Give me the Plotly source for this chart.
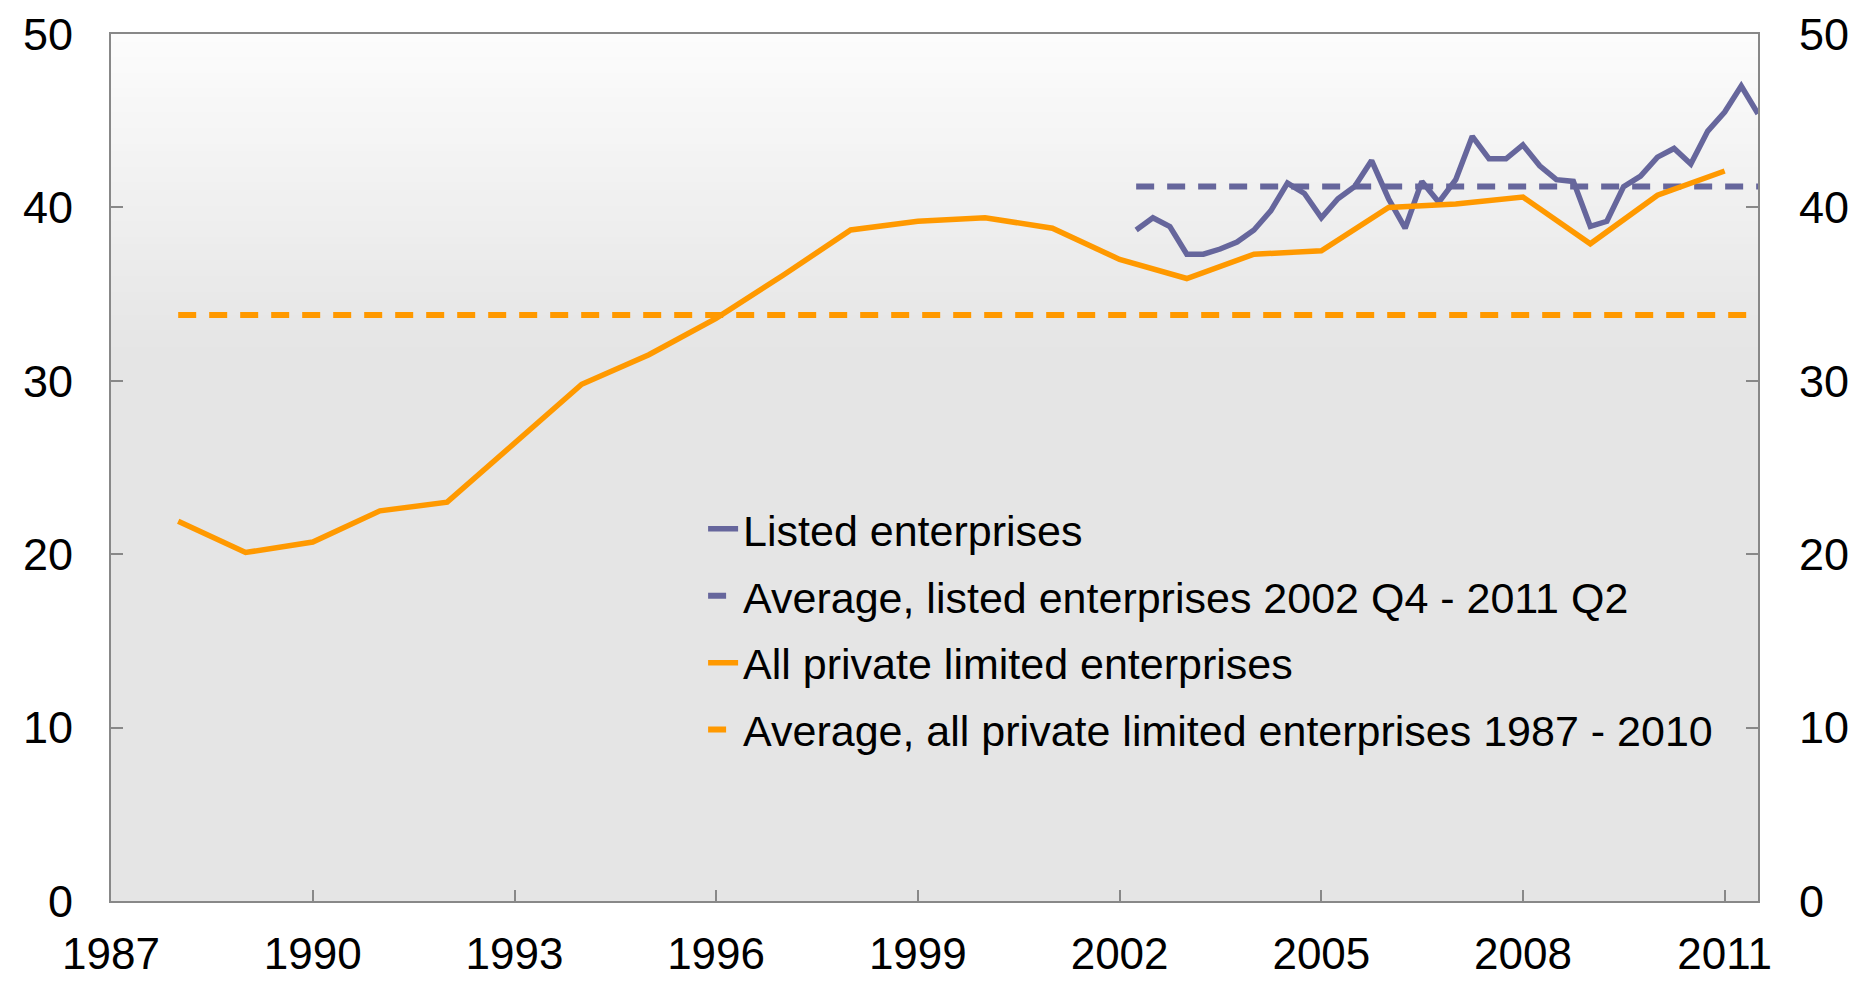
import plotly.graph_objects as go
import pandas as pd

# ---------------- data ----------------
all_years = list(range(1988, 2012))
all_private = [21.9, 20.1, 20.7, 22.5, 23.0, 26.4, 29.8, 31.5, 33.6, 36.1,
               38.7, 39.2, 39.4, 38.8, 37.0, 35.9, 37.3, 37.5, 40.0, 40.2,
               40.6, 37.9, 40.7, 42.1]

listed = [38.7, 39.4, 38.9, 37.3, 37.3, 37.6, 38.0, 38.7, 39.8, 41.4,
          40.8, 39.4, 40.5, 41.2, 42.7, 40.5, 38.8, 41.5, 40.3, 41.6,
          44.1, 42.8, 42.8, 43.6, 42.4, 41.6, 41.5, 38.9, 39.2, 41.2,
          41.8, 42.9, 43.4, 42.5, 44.4, 45.5, 47.0, 45.4]
listed_start = "2002-04-01"

avg_listed = 41.2
avg_all = 33.8

x_start = "1987-01-01"
x_end = "2011-07-01"
tick_years = [1987, 1990, 1993, 1996, 1999, 2002, 2005, 2008, 2011]
y_ticks = [0, 10, 20, 30, 40, 50]

labels = ["Listed enterprises",
          "Average, listed enterprises 2002 Q4 - 2011 Q2",
          "All private limited enterprises",
          "Average, all private limited enterprises 1987 - 2010"]

# ---------------- derived ----------------
all_dates = [f"{y}-01-01" for y in all_years]
listed_dates = pd.date_range(start=listed_start, periods=len(listed), freq="QS")

PURPLE = "#66669c"
ORANGE = "#ff9900"
FONT = "Liberation Sans, Arial, sans-serif"

fig = go.Figure()
fig.add_trace(go.Scatter(x=listed_dates, y=listed, mode="lines", name=labels[0],
                         line=dict(color=PURPLE, width=5.5), legendgroup="a"))
fig.add_trace(go.Scatter(x=[listed_dates[0], x_end], y=[avg_listed, avg_listed],
                         mode="lines", name=labels[1], legendgroup="b",
                         line=dict(color=PURPLE, width=6, dash="18px,13px")))
fig.add_trace(go.Scatter(x=all_dates, y=all_private, mode="lines", name=labels[2],
                         line=dict(color=ORANGE, width=5.5), legendgroup="c"))
fig.add_trace(go.Scatter(x=[all_dates[0], x_end], y=[avg_all, avg_all],
                         mode="lines", name=labels[3], legendgroup="d",
                         line=dict(color=ORANGE, width=6, dash="18px,13px")))
# dummy trace for right axis
fig.add_trace(go.Scatter(x=[None], y=[None], yaxis="y2", showlegend=False,
                         hoverinfo="skip"))

# background gradient (white at top -> light grey)
shapes = []
n = 40
top_frac = 0.36
c0, c1 = 252, 229
for i in range(n):
    f = i / n
    col = int(round(c0 + (c1 - c0) * f))
    y1 = 1 - f * top_frac
    y0 = 1 - (i + 1) / n * top_frac
    shapes.append(dict(type="rect", xref="paper", yref="paper", x0=0, x1=1,
                       y0=y0 - 0.001, y1=y1, layer="below", line=dict(width=0),
                       fillcolor=f"rgb({col},{col},{col})"))

axis_common = dict(showline=True, linecolor="#888888", linewidth=2,
                   ticks="inside", tickcolor="#888888", tickwidth=2,
                   showgrid=False, zeroline=False, automargin=False,
                   tickfont=dict(family=FONT, size=45, color="black"))

fig.update_layout(
    width=1864, height=981,
    margin=dict(l=111, r=106, t=34, b=80),
    paper_bgcolor="white",
    plot_bgcolor=f"rgb({c1},{c1},{c1})",
    shapes=shapes,
    font=dict(family=FONT, color="black"),
    xaxis=dict(type="date", range=[x_start, x_end],
               tickvals=[f"{y}-01-01" for y in tick_years],
               ticktext=[str(y) for y in tick_years],
               ticklen=11, ticklabelstandoff=13, mirror=True, **axis_common),
    yaxis=dict(range=[0, 50], tickvals=y_ticks, ticklen=12,
               ticklabelstandoff=27, mirror=True, **axis_common),
    yaxis2=dict(range=[0, 50], tickvals=y_ticks, ticklen=12, overlaying="y",
                side="right", ticklabelstandoff=30, **axis_common),
    legend=dict(x=0.3595, y=0.469, xanchor="left", yanchor="top",
                bgcolor="rgba(0,0,0,0)", traceorder="grouped",
                tracegroupgap=8,
                font=dict(family=FONT, size=43, color="black")),
    showlegend=True,
)
fig.update_xaxes(tickfont=dict(family=FONT, size=44, color="black"))

fig.write_html(
    "out.html",
    config={"displayModeBar": False},
    post_script="document.body.style.margin='0';document.body.style.padding='0';",
)
